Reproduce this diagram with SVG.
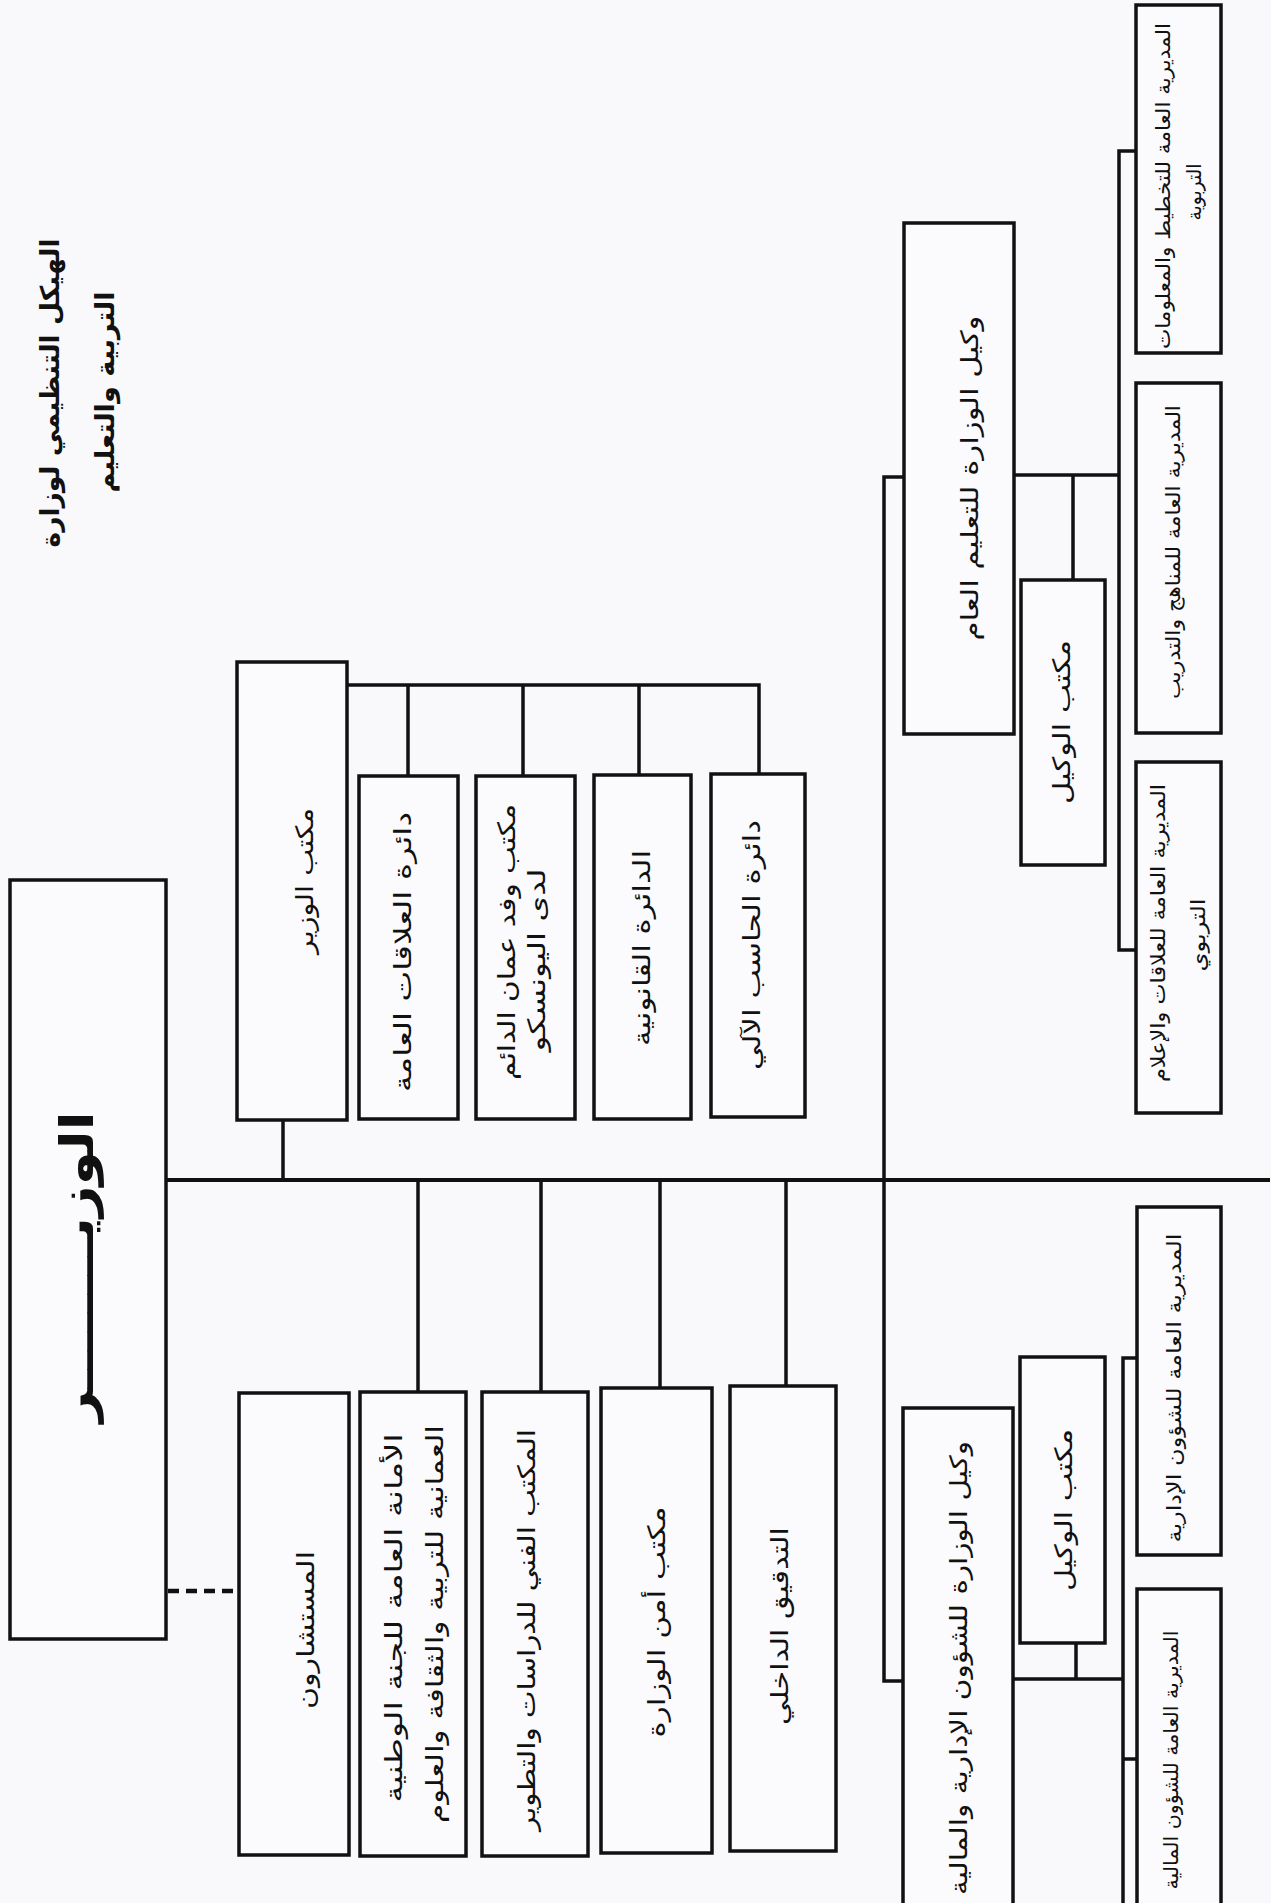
<svg xmlns="http://www.w3.org/2000/svg" width="1271" height="1903" viewBox="0 0 1271 1903">
<style>
.bg{fill:#f9f9fb}
.box{fill:#fbfbfd;stroke:#111;stroke-width:3.5}
.ln{fill:none;stroke:#111;stroke-width:3.5;stroke-linecap:square}
.main{stroke-width:4}
.dash{fill:none;stroke:#111;stroke-width:4.5;stroke-dasharray:11 7}
text{font-family:"DejaVu Sans",sans-serif;fill:#111;text-anchor:middle;dominant-baseline:central}
.t{font-size:24px}
.s{font-size:20px}
.h{font-size:26px;font-weight:bold}
.big{font-size:46px;font-weight:bold}
</style>
<rect class="bg" x="0" y="0" width="1271" height="1903"/>

<g id="title">
<text class="h" transform="translate(50,393) rotate(-90)" textLength="309" lengthAdjust="spacingAndGlyphs">الهيكل التنظيمي لوزارة</text>
<text class="h" transform="translate(105,392) rotate(-90)" textLength="201" lengthAdjust="spacingAndGlyphs">التربية والتعليم</text>
</g>

<g id="connectors">
<path class="ln main" d="M166,1180 H1268"/>
<path class="ln" d="M283,1120 V1180"/>
<path class="ln" d="M347,685 H759 V774 M408,685 V776 M523,685 V776 M639,685 V775"/>
<path class="ln" d="M418,1180 V1392 M541,1180 V1392 M660,1180 V1388 M786,1180 V1386"/>
<path class="dash" d="M168,1591 H239"/>
<path class="ln" d="M904,477 H884 V1681 H903"/>
<path class="ln" d="M1014,475 H1119 M1073,475 V580 M1136,151 H1119 V950 H1136"/>
<path class="ln" d="M1012,1679 H1123 M1076,1643 V1679 M1137,1358 H1123 V1903 M1123,1759 H1137"/>
</g>

<g id="n-minister">
<rect class="box" x="10" y="880" width="156" height="759"/>
<text class="big" transform="translate(77,1267) rotate(-90)" textLength="311" lengthAdjust="spacingAndGlyphs">الوزيــــــــر</text>
</g>
<g id="n-minister-office">
<rect class="box" x="237" y="662" width="110" height="458"/>
<text class="t" transform="translate(305,881) rotate(-90)" textLength="146" lengthAdjust="spacingAndGlyphs">مكتب الوزير</text>
</g>
<g id="n-public-relations">
<rect class="box" x="359" y="776" width="99" height="343"/>
<text class="t" transform="translate(403,952) rotate(-90)" textLength="280" lengthAdjust="spacingAndGlyphs">دائرة العلاقات العامة</text>
</g>
<g id="n-unesco">
<rect class="box" x="476" y="776" width="99" height="343"/>
<text class="t" transform="translate(507,942) rotate(-90)" textLength="276" lengthAdjust="spacingAndGlyphs">مكتب وفد عمان الدائم</text>
<text class="t" transform="translate(537,960) rotate(-90)" textLength="183" lengthAdjust="spacingAndGlyphs">لدى اليونسكو</text>
</g>
<g id="n-legal">
<rect class="box" x="594" y="775" width="97" height="344"/>
<text class="t" transform="translate(642,948) rotate(-90)" textLength="196" lengthAdjust="spacingAndGlyphs">الدائرة القانونية</text>
</g>
<g id="n-computer">
<rect class="box" x="711" y="774" width="94" height="343"/>
<text class="t" transform="translate(752,945) rotate(-90)" textLength="250" lengthAdjust="spacingAndGlyphs">دائرة الحاسب الآلي</text>
</g>

<g id="n-advisors">
<rect class="box" x="239" y="1393" width="110" height="462"/>
<text class="t" transform="translate(306,1630) rotate(-90)" textLength="158" lengthAdjust="spacingAndGlyphs">المستشارون</text>
</g>
<g id="n-national-commission">
<rect class="box" x="360" y="1392" width="106" height="464"/>
<text class="t" transform="translate(394,1618) rotate(-90)" textLength="369" lengthAdjust="spacingAndGlyphs">الأمانة العامة للجنة الوطنية</text>
<text class="t" transform="translate(435,1624) rotate(-90)" textLength="398" lengthAdjust="spacingAndGlyphs">العمانية للتربية والثقافة والعلوم</text>
</g>
<g id="n-technical-office">
<rect class="box" x="482" y="1392" width="106" height="464"/>
<text class="t" transform="translate(527,1630) rotate(-90)" textLength="402" lengthAdjust="spacingAndGlyphs">المكتب الفني للدراسات والتطوير</text>
</g>
<g id="n-security">
<rect class="box" x="601" y="1388" width="111" height="465"/>
<text class="t" transform="translate(657,1622) rotate(-90)" textLength="231" lengthAdjust="spacingAndGlyphs">مكتب أمن الوزارة</text>
</g>
<g id="n-audit">
<rect class="box" x="730" y="1386" width="106" height="465"/>
<text class="t" transform="translate(780,1626) rotate(-90)" textLength="198" lengthAdjust="spacingAndGlyphs">التدقيق الداخلي</text>
</g>

<g id="n-usec-education">
<rect class="box" x="904" y="223" width="110" height="511"/>
<text class="t" transform="translate(970,478) rotate(-90)" textLength="325" lengthAdjust="spacingAndGlyphs">وكيل الوزارة للتعليم العام</text>
</g>
<g id="n-usec-education-office">
<rect class="box" x="1021" y="580" width="84" height="285"/>
<text class="t" transform="translate(1062,722) rotate(-90)" textLength="164" lengthAdjust="spacingAndGlyphs">مكتب الوكيل</text>
</g>
<g id="n-dg-planning">
<rect class="box" x="1136" y="5" width="85" height="348"/>
<text class="s" transform="translate(1163,186) rotate(-90)" textLength="326" lengthAdjust="spacingAndGlyphs">المديرية العامة للتخطيط والمعلومات</text>
<text class="s" transform="translate(1194,192) rotate(-90)" textLength="57" lengthAdjust="spacingAndGlyphs">التربوية</text>
</g>
<g id="n-dg-curricula">
<rect class="box" x="1136" y="383" width="85" height="350"/>
<text class="s" transform="translate(1173,552) rotate(-90)" textLength="294" lengthAdjust="spacingAndGlyphs">المديرية العامة للمناهج والتدريب</text>
</g>
<g id="n-dg-relations">
<rect class="box" x="1136" y="762" width="85" height="351"/>
<text class="s" transform="translate(1158,933) rotate(-90)" textLength="298" lengthAdjust="spacingAndGlyphs">المديرية العامة للعلاقات والإعلام</text>
<text class="s" transform="translate(1198,935) rotate(-90)" textLength="73" lengthAdjust="spacingAndGlyphs">التربوي</text>
</g>

<g id="n-usec-admin">
<rect class="box" x="903" y="1408" width="110" height="520"/>
<text class="t" transform="translate(959,1668) rotate(-90)" textLength="454" lengthAdjust="spacingAndGlyphs">وكيل الوزارة للشؤون الإدارية والمالية</text>
</g>
<g id="n-usec-admin-office">
<rect class="box" x="1020" y="1357" width="85" height="286"/>
<text class="t" transform="translate(1064,1510) rotate(-90)" textLength="162" lengthAdjust="spacingAndGlyphs">مكتب الوكيل</text>
</g>
<g id="n-dg-admin">
<rect class="box" x="1137" y="1207" width="84" height="348"/>
<text class="s" transform="translate(1174,1388) rotate(-90)" textLength="309" lengthAdjust="spacingAndGlyphs">المديرية العامة للشؤون الإدارية</text>
</g>
<g id="n-dg-finance">
<rect class="box" x="1137" y="1589" width="84" height="340"/>
<text class="s" transform="translate(1171,1760) rotate(-90)" textLength="259" lengthAdjust="spacingAndGlyphs">المديرية العامة للشؤون المالية</text>
</g>
</svg>
